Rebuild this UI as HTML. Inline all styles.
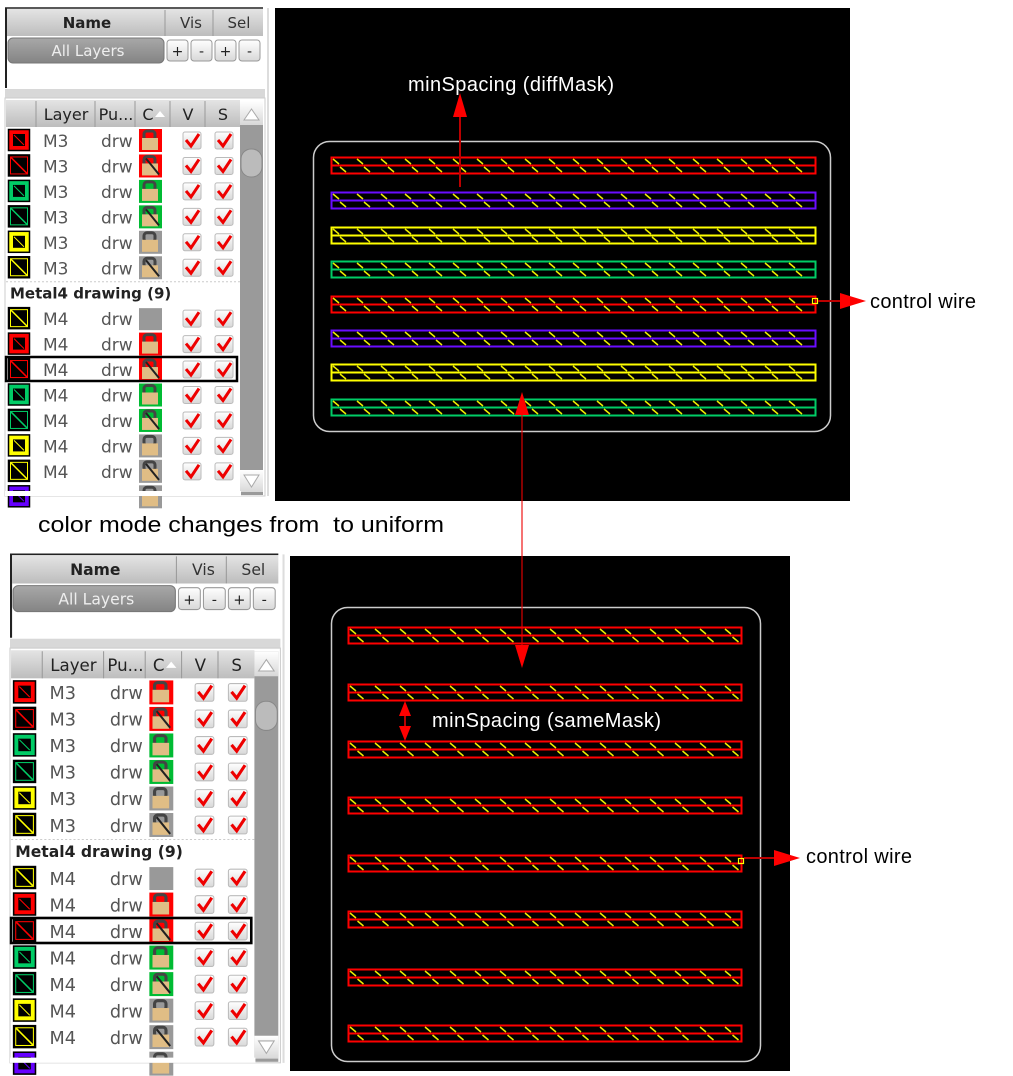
<!DOCTYPE html>
<html><head><meta charset="utf-8"><style>
html,body{margin:0;padding:0;background:#fff;}
svg{display:block}
text{font-family:"Liberation Sans","DejaVu Sans",sans-serif}
.dv{font-family:"DejaVu Sans","Liberation Sans",sans-serif}
</style></head><body>
<svg id="s" width="1013" height="1076" xmlns="http://www.w3.org/2000/svg">
<defs>
<linearGradient id="hg" x1="0" y1="0" x2="0" y2="1"><stop offset="0" stop-color="#e4e4e4"/><stop offset="1" stop-color="#bdbdbd"/></linearGradient>
<linearGradient id="bg" x1="0" y1="0" x2="0" y2="1"><stop offset="0" stop-color="#a8a8a8"/><stop offset="1" stop-color="#848484"/></linearGradient>
<linearGradient id="cb" x1="0" y1="0" x2="0" y2="1"><stop offset="0" stop-color="#fff"/><stop offset="1" stop-color="#d8d8d8"/></linearGradient>
</defs>
<g id="panels"></g>
<rect x="275" y="8" width="575" height="493" fill="#000"/>
<rect x="290" y="556" width="500" height="515" fill="#000"/>
<rect x="313.5" y="141.5" width="517" height="290" rx="16" fill="none" stroke="#ccc" stroke-width="1.5"/>
<rect x="331.5" y="607.5" width="429" height="454" rx="16" fill="none" stroke="#ccc" stroke-width="1.5"/>
<g id="wires"></g>
<g id="ann">
<line x1="460" y1="105" x2="460" y2="187" stroke="#b00" stroke-width="2"/>
<polygon points="460,93 453,117 467,117" fill="#f00"/>
<text x="408" y="91" fill="#fff" font-size="20" textLength="206">minSpacing (diffMask)</text>
<rect x="812.5" y="298.5" width="5" height="5" fill="none" stroke="#ff0" stroke-width="1.2"/>
<line x1="818" y1="301" x2="845" y2="301" stroke="#b00" stroke-width="2"/>
<polygon points="866,301 840,293 840,309" fill="#f00"/>
<text x="870" y="308" fill="#000" font-size="20" textLength="106">control wire</text>
<line x1="522" y1="405" x2="522" y2="655" stroke="#e00" stroke-opacity="0.55" stroke-width="2"/>
<polygon points="522,392 515,415 529,415" fill="#f00"/>
<polygon points="522,668 515,645 529,645" fill="#f00"/>
<line x1="405" y1="705" x2="405" y2="735" stroke="#b00" stroke-width="2"/>
<polygon points="405,701 399,716 411,716" fill="#f00"/>
<polygon points="405,741 399,726 411,726" fill="#f00"/>
<text x="432" y="727" fill="#fff" font-size="20" textLength="229">minSpacing (sameMask)</text>
<rect x="738.5" y="858.5" width="5" height="5" fill="none" stroke="#ff0" stroke-width="1.2"/>
<line x1="744" y1="858" x2="785" y2="858" stroke="#b00" stroke-width="2"/>
<polygon points="800,858 774,850 774,866" fill="#f00"/>
<text x="806" y="863" fill="#000" font-size="20" textLength="106">control wire</text>
<text x="38" y="532" fill="#000" font-size="22" xml:space="preserve" textLength="406" lengthAdjust="spacingAndGlyphs">color mode changes from  to uniform</text>
</g>
</svg>
<script>
var NS="http://www.w3.org/2000/svg";
function el(p,t,a,txt){var e=document.createElementNS(NS,t);for(var k in a)e.setAttribute(k,a[k]);if(txt!=null)e.textContent=txt;p.appendChild(e);return e;}
var W=document.getElementById('wires');
function wire(x,y,w,h,col,sp){
  var g=el(W,'g',{});
  el(g,'rect',{x:x+.5,y:y+.5,width:w,height:h,fill:'none',stroke:col,'stroke-width':2});
  el(g,'line',{x1:x,y1:y+h/2+.5,x2:x+w,y2:y+h/2+.5,stroke:col,'stroke-width':2});
  for(var i=x;i<x+w-8;i+=sp){
    el(g,'line',{x1:i+2,y1:y+2,x2:i+8,y2:y+h/2-1,stroke:'#ee0','stroke-width':1.5});
    el(g,'line',{x1:i+sp/2-3,y1:y+h/2+2,x2:i+sp/2+3,y2:y+h-1,stroke:'#ee0','stroke-width':1.5});
  }
}
var tc=['#f00','#6a0dff','#ff0','#0c6','#f00','#6a0dff','#ff0','#0c6'];
var ty=[157,192,227,261,296,330,364,399];
for(var i=0;i<8;i++)wire(331,ty[i],484,16,tc[i],24);
var by=[627,684,741,797,855,911,969,1025];
for(var i=0;i<8;i++)wire(348,by[i],393,16,'#f00',25);
var P=document.getElementById('panels');
function panel(tr){
  var g=el(P,'g',{transform:tr});
  el(g,'rect',{x:5,y:8,width:258,height:80,fill:'#fff'});
  el(g,'line',{x1:6,y1:8,x2:6,y2:88,stroke:'#222','stroke-width':2});
  el(g,'line',{x1:5,y1:8,x2:263,y2:8,stroke:'#222','stroke-width':1.5});
  el(g,'rect',{x:7,y:9,width:256,height:27,fill:'url(#hg)'});
  [165,213].forEach(function(x){el(g,'line',{x1:x,y1:10,x2:x,y2:36,stroke:'#999'});});
  el(g,'text',{x:87,y:28,'font-size':15,'font-weight':'bold','text-anchor':'middle','class':'dv',fill:'#222'},'Name');
  el(g,'text',{x:191,y:28,'font-size':15,'text-anchor':'middle','class':'dv',fill:'#333'},'Vis');
  el(g,'text',{x:239,y:28,'font-size':15,'text-anchor':'middle','class':'dv',fill:'#333'},'Sel');
  el(g,'rect',{x:8,y:38,width:156,height:25,rx:5,fill:'url(#bg)',stroke:'#777'});
  el(g,'text',{x:88,y:56,'font-size':15,'text-anchor':'middle','class':'dv',fill:'#eee'},'All Layers');
  [['+',167],['-',191],['+',215],['-',239]].forEach(function(b){
    el(g,'rect',{x:b[1],y:40,width:21,height:21,rx:3,fill:'url(#cb)',stroke:'#999'});
    el(g,'text',{x:b[1]+10.5,y:56,'font-size':14,'text-anchor':'middle','class':'dv',fill:'#222'},b[0]);
  });
  el(g,'rect',{x:5,y:89,width:260,height:9,fill:'#d8d8d8'});
  el(g,'rect',{x:5,y:98,width:260,height:398,fill:'#fff',stroke:'#ccc'});
  el(g,'rect',{x:6,y:100,width:234,height:27,fill:'url(#hg)'});
  [36,95,135,170,205].forEach(function(x){el(g,'line',{x1:x,y1:101,x2:x,y2:127,stroke:'#999'});});
  el(g,'text',{x:66,y:120,'font-size':16,'text-anchor':'middle','class':'dv',fill:'#222'},'Layer');
  el(g,'text',{x:116,y:120,'font-size':16,'text-anchor':'middle','class':'dv',fill:'#222'},'Pu...');
  el(g,'text',{x:148,y:120,'font-size':16,'text-anchor':'middle','class':'dv',fill:'#222'},'C');
  el(g,'polygon',{points:'155,117 160,111 165,117',fill:'#fff'});
  el(g,'text',{x:188,y:120,'font-size':16,'text-anchor':'middle','class':'dv',fill:'#222'},'V');
  el(g,'text',{x:223,y:120,'font-size':16,'text-anchor':'middle','class':'dv',fill:'#222'},'S');
  el(g,'rect',{x:240,y:101,width:23,height:394,fill:'#9a9a9a'});
  el(g,'rect',{x:240,y:101,width:23,height:24,fill:'url(#cb)'});
  el(g,'polygon',{points:'244,120 251.5,109 259,120',fill:'#fff',stroke:'#aaa'});
  el(g,'rect',{x:241,y:149,width:21,height:28,rx:10,fill:'#bbb',stroke:'#888'});
  el(g,'rect',{x:240,y:470,width:23,height:22,fill:'url(#cb)'});
  el(g,'polygon',{points:'244,475 251.5,487 259,475',fill:'#fff',stroke:'#aaa'});
  var rows=[
   ['M3','#f00',1,'#f00'],['M3','#f00',0,'#f00'],['M3','#0c6',1,'#0b3'],['M3','#0c6',0,'#0b3'],['M3','#ff0',1,'#999'],['M3','#ff0',0,'#999'],
   null,
   ['M4','#ff0',0,'g'],['M4','#f00',1,'#f00'],['M4','#f00',0,'#f00'],['M4','#0c6',1,'#0b3'],['M4','#0c6',0,'#0b3'],['M4','#ff0',1,'#999'],['M4','#ff0',0,'#999'],
   ['M4','#60f',1,'#999']];
  for(var i=0;i<rows.length;i++){
    var cy=141+i*25.45;var r=rows[i];
    if(r==null){
      el(g,'text',{x:10,y:cy+5,'font-size':15,'font-weight':'bold','class':'dv',fill:'#222'},'Metal4 drawing (9)');
      el(g,'line',{x1:6,y1:cy-12,x2:240,y2:cy-12,stroke:'#ccc','stroke-dasharray':'2,2'});
    } else {
      var last=(i==rows.length-1);
      var sg=el(g,'g',{});
      if(r[2]){el(sg,'rect',{x:8.5,y:cy-11.5,width:21,height:21,fill:r[1],stroke:'#000','stroke-width':1.5});
        el(sg,'rect',{x:13,y:cy-7,width:12,height:12,fill:'#000'});
        el(sg,'line',{x1:14,y1:cy-6,x2:24,y2:cy+4,stroke:r[1]});}
      else{el(sg,'rect',{x:8.5,y:cy-11.5,width:21,height:21,fill:'#000',stroke:'#000','stroke-width':1.5});
        el(sg,'rect',{x:10.5,y:cy-9.5,width:17,height:17,fill:'none',stroke:r[1]});
        el(sg,'line',{x1:11,y1:cy-9,x2:27,y2:cy+7,stroke:r[1],'stroke-width':1.5});}
      if(!last){
      el(g,'text',{x:43,y:cy+6,'font-size':17,'class':'dv',fill:'#555'},r[0]);
      el(g,'text',{x:101,y:cy+6,'font-size':17,'class':'dv',fill:'#555'},'drw');}
      if(r[3]=='g'){el(g,'rect',{x:139,y:cy-11,width:23,height:22,fill:'#999'});}
      else{el(g,'rect',{x:139,y:cy-12,width:23,height:23,fill:r[3]});
        el(g,'rect',{x:144,y:cy-10,width:11,height:9,rx:3,fill:'none',stroke:'#444','stroke-width':3});
        el(g,'rect',{x:142,y:cy-3,width:16,height:12,fill:'#e0bd85'});
        if(!r[2])el(g,'line',{x1:146,y1:cy-8,x2:159,y2:cy+8,stroke:'#222','stroke-width':2});}
      if(!last){
      [183,215].forEach(function(x){
        el(g,'rect',{x:x,y:cy-9,width:18,height:17,rx:2,fill:'url(#cb)',stroke:'#bbb'});
        el(g,'path',{d:'M'+(x+3)+' '+(cy-1)+' L'+(x+8)+' '+(cy+5)+' L'+(x+16)+' '+(cy-7),fill:'none',stroke:'#e00','stroke-width':3});
      });}
    }
  }
  el(g,'rect',{x:6,y:357,width:231,height:24,fill:'none',stroke:'#000','stroke-width':2.5});
  el(g,'rect',{x:5,y:491,width:236,height:5,fill:'#fff'});
  el(g,'line',{x1:268,y1:8,x2:268,y2:496,stroke:'#ddd','stroke-width':2});
}
panel('');
panel('translate(4.8,546) scale(1.04,1.042)');
</script>
</body></html>
